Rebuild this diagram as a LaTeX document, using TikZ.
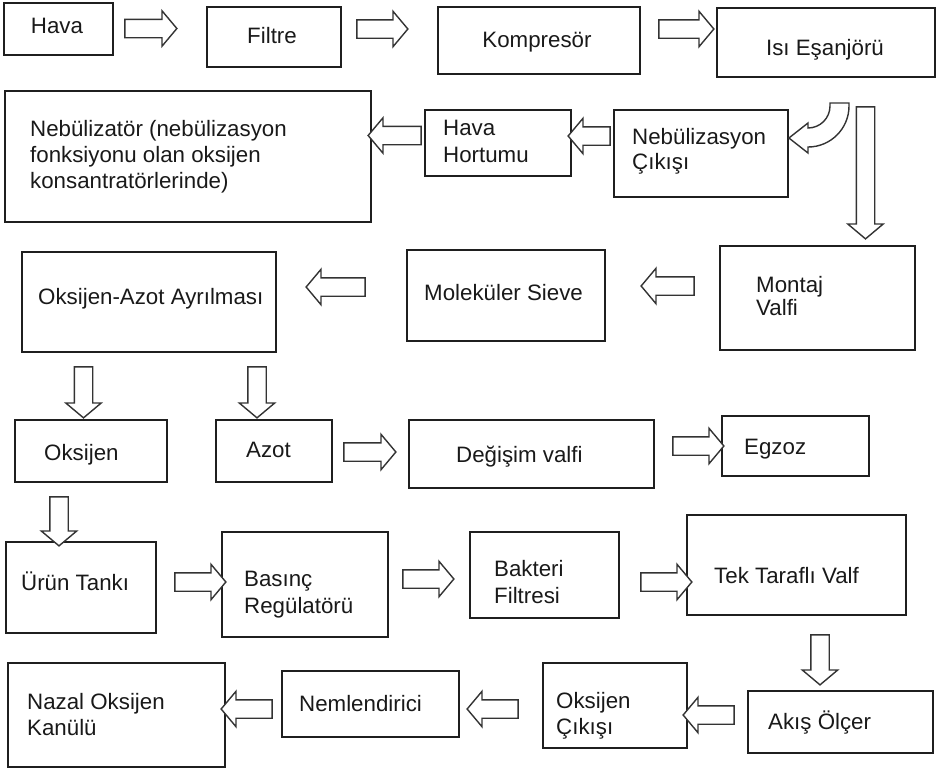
\documentclass[tikz,border=0pt]{standalone}
\usepackage{fontspec}
\setmainfont{Liberation Sans}
\usetikzlibrary{shapes.arrows}
\tikzset{
  box/.style={draw=black!88, line width=1.8pt, rectangle, inner sep=0pt},
  txt/.style={anchor=base west, inner sep=0pt, font=\fontsize{22.3}{26}\selectfont, text=black!90},
  ctxt/.style={anchor=base, inner sep=0pt, font=\fontsize{22.3}{26}\selectfont, text=black!90},
  barrow/.style={single arrow, draw=black!80, line width=1.4pt, fill=white,
    inner xsep=0pt, inner ysep=8.5pt, minimum width=0pt,
    single arrow head extend=8.5pt, single arrow tip angle=100},
  curvearrow/.style={draw=black!80, line width=1.4pt, fill=white, line join=miter}
}
\newcommand{\mybox}[5]{\node[box, minimum width={(#4)-(#2)}, minimum height={(#5)-(#3)}] (#1) at ({((#2)+(#4))/2},{((#3)+(#5))/2}) {};}
\newcommand{\rarr}[4]{\node[barrow, minimum height={(#3)-(#2)}] (#1) at ({((#2)+(#3))/2},#4) {};}
\newcommand{\larr}[4]{\node[barrow, rotate=180, minimum height={(#3)-(#2)}] (#1) at ({((#2)+(#3))/2},#4) {};}
\newcommand{\darr}[4]{\node[barrow, rotate=-90, minimum height={(#4)-(#3)}] (#1) at (#2,{((#3)+(#4))/2}) {};}
\begin{document}
\begin{tikzpicture}[x=1pt,y=-1pt]
\useasboundingbox (0,0) rectangle (942,769);
% boxes
\mybox{hava}{4}{3}{113}{55}
\mybox{filtre}{207}{7}{341}{67}
\mybox{kompresor}{438}{7}{640}{74}
\mybox{isi}{717}{8}{935}{77}
\mybox{nebulizator}{5}{91}{371}{222}
\mybox{hortum}{425}{110}{571}{176}
\mybox{nebcikis}{614}{110}{788}{197}
\mybox{ayrilma}{22}{252}{276}{352}
\mybox{sieve}{407}{250}{605}{341}
\mybox{montaj}{720}{246}{915}{350}
\mybox{oksijen}{15}{420}{167}{482}
\mybox{azot}{216}{420}{332}{482}
\mybox{degisim}{409}{420}{654}{488}
\mybox{egzoz}{722}{416}{869}{476}
\mybox{urun}{6}{542}{156}{633}
\mybox{basinc}{222}{532}{388}{637}
\mybox{bakteri}{470}{532}{619}{618}
\mybox{tek}{687}{515}{906}{615}
\mybox{akis}{748}{691}{933}{753}
\mybox{okscikis}{543}{663}{687}{748}
\mybox{nemlendirici}{282}{671}{459}{737}
\mybox{nazal}{8}{663}{225}{767}
% texts
\node[ctxt] (t-hava) at (57,33) {Hava};
\node[ctxt] (t-filtre) at (272,43) {Filtre};
\node[ctxt] (t-kompresor) at (537,47) {Kompresör};
\node[ctxt] (t-isi) at (825,55) {Isı Eşanjörü};
\node[txt] (t-neb1) at (30,136) {Nebülizatör (nebülizasyon};
\node[txt] (t-neb2) at (30,162) {fonksiyonu olan oksijen};
\node[txt] (t-neb3) at (30,188) {konsantratörlerinde)};
\node[txt] (t-hortum1) at (443,135) {Hava};
\node[txt] (t-hortum2) at (443,162) {Hortumu};
\node[txt] (t-nebcik1) at (632,144) {Nebülizasyon};
\node[txt] (t-nebcik2) at (632,169) {Çıkışı};
\node[txt] (t-ayrilma) at (38,304) {Oksijen-Azot Ayrılması};
\node[txt] (t-sieve) at (424,300) {Moleküler Sieve};
\node[txt] (t-montaj1) at (756,292) {Montaj};
\node[txt] (t-montaj2) at (756,315) {Valfi};
\node[txt] (t-oksijen) at (44,460) {Oksijen};
\node[txt] (t-azot) at (246,457) {Azot};
\node[txt] (t-degisim) at (456,462) {Değişim valfi};
\node[txt] (t-egzoz) at (744,454) {Egzoz};
\node[txt] (t-urun) at (21,590) {Ürün Tankı};
\node[txt] (t-basinc1) at (244,586) {Basınç};
\node[txt] (t-basinc2) at (244,613) {Regülatörü};
\node[txt] (t-bakteri1) at (494,576) {Bakteri};
\node[txt] (t-bakteri2) at (494,603) {Filtresi};
\node[txt] (t-tek) at (714,583) {Tek Taraflı Valf};
\node[txt] (t-nazal1) at (27,709) {Nazal Oksijen};
\node[txt] (t-nazal2) at (27,735) {Kanülü};
\node[txt] (t-nem) at (299,711) {Nemlendirici};
\node[txt] (t-okscik1) at (556,708) {Oksijen};
\node[txt] (t-okscik2) at (556,734) {Çıkışı};
\node[txt] (t-akis) at (768,729) {Akış Ölçer};
% block arrows
\rarr{a1}{121}{173}{28.5}
\rarr{a2}{353}{404}{29}
\rarr{a3}{655}{710}{29}
\larr{a4}{372}{425}{135.5}
\larr{a5}{572}{614}{136}
\darr{a6}{865.5}{103}{235}
\larr{a7}{310}{369}{287}
\larr{a8}{645}{698}{286}
\darr{a9}{83.5}{363}{414}
\darr{a10}{257}{363}{414}
\rarr{a11}{340}{392}{452}
\rarr{a12}{669}{720}{446}
\darr{a13}{59}{493}{542}
\rarr{a14}{171}{222}{582}
\rarr{a15}{399}{450}{579}
\rarr{a16}{637}{688}{582}
\darr{a17}{820}{631}{681}
\larr{a18}{687}{738}{715}
\larr{a19}{471}{522}{709}
\larr{a20}{225}{276}{709}
% curved arrow into Nebulizasyon Cikisi
\draw[curvearrow] (830,103) -- (830,106) arc[start angle=0, end angle=90, radius=22]
  -- (808,123) -- (nebcikis.east |- 0,138) -- (808,153) -- (808,147)
  arc[start angle=90, end angle=0, radius=41] -- (849,103) -- cycle;
\end{tikzpicture}
\end{document}
